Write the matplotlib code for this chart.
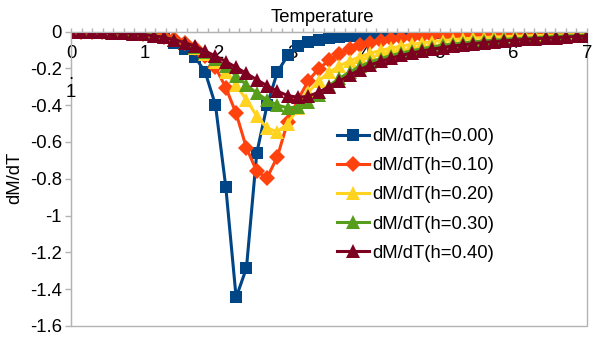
import matplotlib
matplotlib.use("Agg")
import matplotlib.pyplot as plt
from matplotlib.ticker import FixedLocator, MultipleLocator

plt.rcParams['font.family'] = ['Liberation Sans', 'DejaVu Sans']

temperature = [0.00, 0.14, 0.28, 0.42, 0.56, 0.70, 0.84, 0.98, 1.12, 1.26,
               1.40, 1.54, 1.68, 1.82, 1.96, 2.10, 2.24, 2.38, 2.52, 2.66,
               2.80, 2.94, 3.08, 3.22, 3.36, 3.50, 3.64, 3.78, 3.92, 4.06,
               4.20, 4.34, 4.48, 4.62, 4.76, 4.90, 5.04, 5.18, 5.32, 5.46,
               5.60, 5.74, 5.88, 6.02, 6.16, 6.30, 6.44, 6.58, 6.72, 6.86, 7.00]

dmdt_h000 = [0.0, 0.0, 0.0, -0.001, -0.002, -0.004, -0.007, -0.011, -0.022, -0.038,
             -0.064, -0.095, -0.137, -0.22, -0.40, -0.845, -1.445, -1.285, -0.66, -0.40,
             -0.22, -0.13, -0.08, -0.058, -0.044, -0.035, -0.028, -0.023, -0.019, -0.016,
             -0.014, -0.012, -0.011, -0.010, -0.009, -0.008, -0.007, -0.007, -0.006, -0.006,
             -0.005, -0.005, -0.005, -0.004, -0.004, -0.004, -0.004, -0.003, -0.003, -0.003, -0.003]

dmdt_h010 = [0.0, 0.0, -0.001, -0.002, -0.003, -0.005, -0.008, -0.012, -0.019, -0.029,
             -0.043, -0.063, -0.092, -0.135, -0.195, -0.305, -0.445, -0.632, -0.76, -0.795,
             -0.68, -0.49, -0.37, -0.267, -0.203, -0.157, -0.122, -0.095, -0.075, -0.06,
             -0.049, -0.041, -0.035, -0.030, -0.026, -0.023, -0.021, -0.019, -0.017, -0.016,
             -0.015, -0.014, -0.013, -0.012, -0.011, -0.011, -0.010, -0.010, -0.009, -0.009, -0.008]

dmdt_h020 = [0.0, -0.001, -0.002, -0.003, -0.004, -0.006, -0.009, -0.013, -0.02, -0.03,
             -0.044, -0.062, -0.087, -0.12, -0.165, -0.222, -0.292, -0.37, -0.46, -0.525,
             -0.545, -0.50, -0.415, -0.33, -0.268, -0.222, -0.187, -0.16, -0.137, -0.118,
             -0.103, -0.09, -0.079, -0.07, -0.062, -0.055, -0.049, -0.044, -0.040, -0.036,
             -0.033, -0.030, -0.028, -0.026, -0.024, -0.022, -0.021, -0.019, -0.018, -0.017, -0.016]

dmdt_h030 = [0.0, -0.001, -0.002, -0.003, -0.005, -0.007, -0.010, -0.014, -0.021, -0.031,
             -0.044, -0.06, -0.082, -0.11, -0.147, -0.19, -0.24, -0.29, -0.335, -0.372,
             -0.40, -0.415, -0.41, -0.385, -0.345, -0.295, -0.255, -0.22, -0.19, -0.166,
             -0.147, -0.131, -0.117, -0.105, -0.094, -0.084, -0.075, -0.068, -0.062, -0.056,
             -0.051, -0.047, -0.043, -0.039, -0.036, -0.033, -0.030, -0.027, -0.024, -0.022, -0.020]

dmdt_h040 = [-0.001, -0.002, -0.003, -0.004, -0.006, -0.008, -0.011, -0.016, -0.023, -0.032,
             -0.044, -0.06, -0.08, -0.106, -0.134, -0.163, -0.195, -0.228, -0.262, -0.295,
             -0.325, -0.348, -0.358, -0.352, -0.33, -0.30, -0.27, -0.237, -0.207, -0.182,
             -0.162, -0.145, -0.13, -0.117, -0.106, -0.096, -0.087, -0.079, -0.072, -0.066,
             -0.060, -0.055, -0.051, -0.047, -0.043, -0.039, -0.036, -0.033, -0.030, -0.027, -0.025]

series_labels = ["dM/dT(h=0.00)", "dM/dT(h=0.10)", "dM/dT(h=0.20)",
                 "dM/dT(h=0.30)", "dM/dT(h=0.40)"]
series_values = [dmdt_h000, dmdt_h010, dmdt_h020, dmdt_h030, dmdt_h040]
colors = ["#004586", "#ff420e", "#ffd320", "#579d1c", "#7e0021"]
markers = ["s", "D", "^", "^", "^"]
msizes = [8.4, 8.0, 9.4, 9.4, 9.4]

xticks = [0, 1, 2, 3, 4, 5, 6, 7]
xtick_labels = ["0", "1", "2", "3", "4", "5", "6", "7"]
yticks = [0, -0.2, -0.4, -0.6, -0.8, -1.0, -1.2, -1.4, -1.6]
ytick_labels = ["0", "-0.2", "-0.4", "-0.6", "-0.8", "-1", "-1.2", "-1.4", "-1.6"]

W, H = 605, 340
FS = 13.3
gray = "#b3b3b3"

fig = plt.figure(figsize=(W / 100, H / 100), dpi=100)
ax = fig.add_axes([71 / W, 1 - 326 / H, (587 - 71) / W, (326 - 31.5) / H])

for vals, lab, c, m, ms in zip(series_values, series_labels, colors, markers, msizes):
    ax.plot(temperature, vals, color=c, marker=m, markersize=ms, linewidth=2.2,
            markeredgewidth=0, label=lab)

ax.set_xlim(0, 7)
ax.set_ylim(-1.6, 0)

ax.patch.set_edgecolor(gray)
ax.patch.set_linewidth(1.0)
for s in ["top", "right"]:
    ax.spines[s].set_visible(False)
ax.spines["left"].set_color(gray)
ax.spines["bottom"].set_color(gray)
ax.spines["bottom"].set_position(("data", 0))

ax.xaxis.set_major_locator(FixedLocator(xticks))
ax.set_xticklabels(xtick_labels, fontsize=FS)
ax.xaxis.set_minor_locator(MultipleLocator(1 / 7))
ax.tick_params(axis="x", which="both", direction="in", length=3.2, width=1,
               color=gray, pad=9.5)
ax.yaxis.set_major_locator(FixedLocator(yticks))
ax.set_yticklabels(ytick_labels, fontsize=FS)
ax.tick_params(axis="y", which="major", direction="out", length=4.3, width=1,
               color=gray, pad=2.2)

fig.text(322.5 / W, 1 - 17 / H, "Temperature", ha="center", va="center", fontsize=FS)
fig.text(15 / W, 1 - 178 / H, "dM/dT", ha="center", va="center", rotation=90, fontsize=FS)
fig.text(70.5 / W, 1 - 92.5 / H, "1", ha="center", va="center", fontsize=FS)
fig.text(71 / W, 1 - 79 / H, ".", ha="center", va="baseline", fontsize=FS)

ax.legend(loc="upper left", bbox_to_anchor=(337 / W, 1 - 128 / H),
          bbox_transform=fig.transFigure, frameon=False, fontsize=FS,
          handlelength=1.75, handletextpad=0.15, labelspacing=0.66,
          borderpad=0, borderaxespad=0, markerscale=1.0)

fig.savefig("out.png", dpi=100)
